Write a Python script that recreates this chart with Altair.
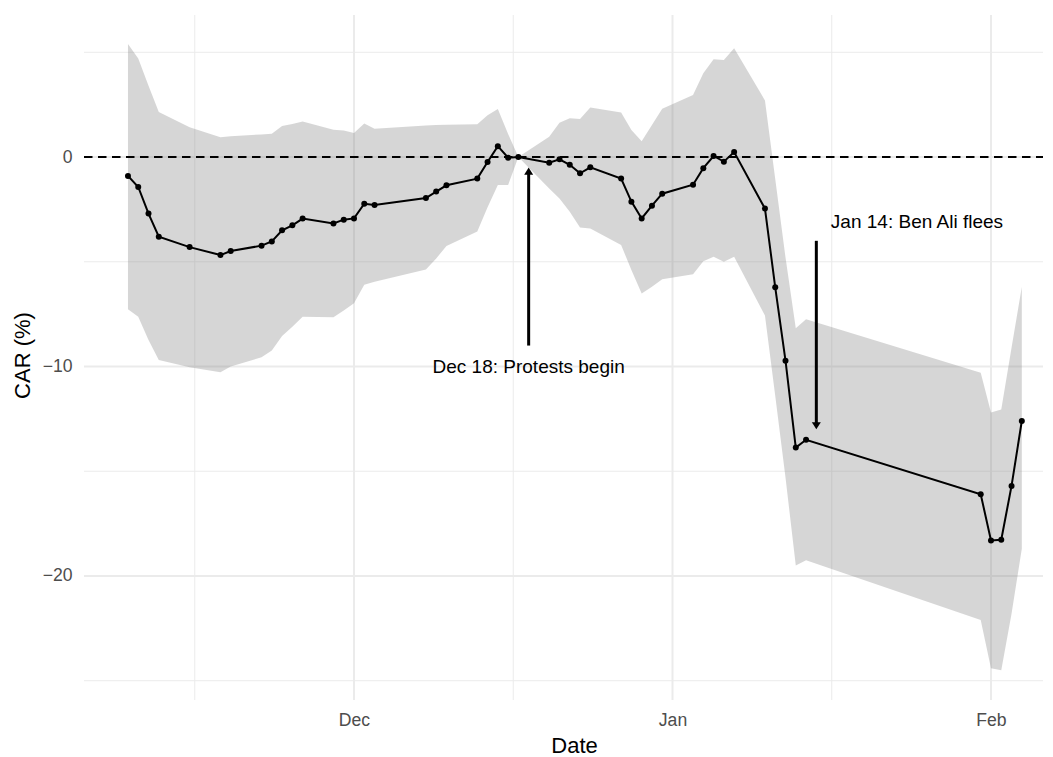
import altair as alt
import pandas as pd

# ---------------- data ----------------
dates = [
    "2010-11-09", "2010-11-10", "2010-11-11", "2010-11-12", "2010-11-15",
    "2010-11-18", "2010-11-19", "2010-11-22", "2010-11-23", "2010-11-24",
    "2010-11-25", "2010-11-26", "2010-11-29", "2010-11-30",
    "2010-12-01", "2010-12-02", "2010-12-03", "2010-12-08", "2010-12-09",
    "2010-12-10", "2010-12-13", "2010-12-14", "2010-12-15", "2010-12-16",
    "2010-12-17", "2010-12-20", "2010-12-21", "2010-12-22", "2010-12-23",
    "2010-12-24", "2010-12-27", "2010-12-28", "2010-12-29", "2010-12-30",
    "2010-12-31",
    "2011-01-03", "2011-01-04", "2011-01-05", "2011-01-06", "2011-01-07",
    "2011-01-10", "2011-01-11", "2011-01-12", "2011-01-13", "2011-01-14",
    "2011-01-31",
    "2011-02-01", "2011-02-02", "2011-02-03", "2011-02-04",
]
car = [
    -0.90, -1.43, -2.70, -3.80, -4.30,
    -4.68, -4.49, -4.23, -4.03, -3.50,
    -3.26, -2.94, -3.17, -2.99,
    -2.93, -2.23, -2.29, -1.96, -1.65,
    -1.35, -1.03, -0.24, 0.52, -0.03,
    0.00, -0.27, -0.11, -0.37, -0.78,
    -0.49, -1.03, -2.13, -2.93, -2.32,
    -1.75,
    -1.32, -0.53, 0.05, -0.22, 0.24,
    -2.46, -6.22, -9.72, -13.87, -13.50,
    -16.10,
    -18.30, -18.27, -15.70, -12.60,
]
upper = [
    5.40, 4.70, 3.40, 2.15, 1.42,
    0.95, 0.99, 1.08, 1.11, 1.48,
    1.58, 1.70, 1.30, 1.27,
    1.15, 1.60, 1.35, 1.51, 1.53,
    1.54, 1.57, 2.00, 2.29, 1.10,
    0.00, 0.97, 1.64, 1.85, 1.81,
    2.37, 2.12, 1.29, 0.75, 1.53,
    2.30,
    2.96, 4.00, 4.67, 4.63, 5.19,
    2.70, -1.05, -4.80, -8.17, -7.74,
    -10.30,
    -12.20, -12.05, -9.10, -6.20,
]
lower = [
    -7.27, -7.62, -8.74, -9.69, -10.04,
    -10.28, -10.00, -9.56, -9.24, -8.54,
    -8.10, -7.62, -7.65, -7.33,
    -6.98, -6.10, -5.95, -5.37, -4.84,
    -4.25, -3.56, -2.40, -1.34, -1.34,
    0.00, -1.50, -1.98, -2.61, -3.36,
    -3.41, -4.20, -5.39, -6.52, -6.19,
    -5.84,
    -5.60, -4.97, -4.76, -5.00, -4.76,
    -7.57, -11.40, -15.30, -19.50, -19.25,
    -22.10,
    -24.40, -24.50, -21.80, -18.70,
]

x_major = ["2010-12-01", "2011-01-01", "2011-02-01"]
x_minor = ["2010-11-15T12:00", "2010-12-16T12:00", "2011-01-16T12:00"]
y_major = [0, -10, -20]
y_minor = [5, -5, -15, -25]
zero_line = [0]
x_domain = ["2010-11-04T17:17", "2011-02-06T01:30"]
y_domain = [-25.92, 6.78]

ann_text = ["Dec 18: Protests begin", "Jan 14: Ben Ali flees"]
ann_text_x = ["2010-12-18", "2011-01-24T19:00"]
ann_text_y = [-10.0, -3.1]
arrow_x = ["2010-12-18", "2011-01-15"]
arrow_from = [-9.0, -4.0]
arrow_to = [-0.5, -13.0]


def ms(s):
    return int(pd.Timestamp(s, tz="UTC").value // 10**6)


W, H = 959, 685
FONT = "Liberation Sans"

main = pd.DataFrame({"date": [ms(d) for d in dates], "car": car,
                     "hi": upper, "lo": lower})

xscale = alt.Scale(type="utc", domain=[ms(d) for d in x_domain], nice=False)
yscale = alt.Scale(domain=y_domain, nice=False, zero=False)

xaxis = alt.Axis(values=[ms(d) for d in x_major], format="%b", grid=False,
                 domain=False, ticks=False, tickSize=0, labelPadding=11,
                 labelFont=FONT, labelFontSize=17.6, labelColor="#4D4D4D",
                 title="Date", titleFont=FONT, titleFontSize=22,
                 titleFontWeight="normal", titleColor="#000000",
                 titleX=490, titleY=45, titleBaseline="middle",
                 titleAlign="center")
yaxis = alt.Axis(values=y_major, grid=False, domain=False, ticks=False,
                 tickSize=0, labelPadding=12, labelFont=FONT,
                 labelFontSize=17.6, labelColor="#4D4D4D",
                 title="CAR (%)", titleFont=FONT, titleFontSize=22,
                 titleFontWeight="normal", titleColor="#000000",
                 titleX=-62, titleY=340, titleAngle=270,
                 titleBaseline="middle", titleAlign="center")


def X(field):
    return alt.X(f"{field}:T", scale=xscale, axis=xaxis, title="Date")


def Y(field):
    return alt.Y(f"{field}:Q", scale=yscale, axis=yaxis, title="CAR (%)")


hgrid_major = alt.Chart(pd.DataFrame({"car": y_major})).mark_rule(
    color="#EBEBEB", strokeWidth=2).encode(
    y=Y("car"), x=alt.value(0), x2=alt.value(W))
hgrid_minor = alt.Chart(pd.DataFrame({"car": y_minor})).mark_rule(
    color="#EBEBEB", strokeWidth=1).encode(
    y=Y("car"), x=alt.value(0), x2=alt.value(W))
vgrid_major = alt.Chart(pd.DataFrame({"date": [ms(d) for d in x_major]})).mark_rule(
    color="#EBEBEB", strokeWidth=2).encode(
    x=X("date"), y=alt.value(0), y2=alt.value(H))
vgrid_minor = alt.Chart(pd.DataFrame({"date": [ms(d) for d in x_minor]})).mark_rule(
    color="#EBEBEB", strokeWidth=1).encode(
    x=X("date"), y=alt.value(0), y2=alt.value(H))

ribbon = alt.Chart(main).mark_area(color="#7F7F7F", opacity=0.32).encode(
    x=X("date"), y=Y("lo"), y2="hi:Q")

zero = alt.Chart(pd.DataFrame({"car": zero_line})).mark_rule(
    color="#000000", strokeWidth=2, strokeDash=[8.5, 5.5]).encode(
    y=Y("car"), x=alt.value(0), x2=alt.value(W))

line = alt.Chart(main).mark_line(color="#000000", strokeWidth=2).encode(
    x=X("date"), y=Y("car"))
points = alt.Chart(main).mark_circle(color="#000000", size=36, opacity=1).encode(
    x=X("date"), y=Y("car"))

# arrow shafts stop just inside the heads
shaft_end = [t - 0.25 if t > f else t + 0.25 for f, t in zip(arrow_from, arrow_to)]
arrows = pd.DataFrame({"date": [ms(d) for d in arrow_x], "y1": arrow_from,
                       "y2": shaft_end, "tip": arrow_to})
shafts = alt.Chart(arrows).mark_rule(color="#000000", strokeWidth=3).encode(
    x=X("date"), y=Y("y1"), y2="y2:Q")
head_up = alt.Chart(arrows.iloc[[0]]).mark_point(
    shape="M0,0L1,1.6L-1,1.6Z", filled=True, size=81, color="#000000",
    opacity=1).encode(x=X("date"), y=Y("tip"))
head_down = alt.Chart(arrows.iloc[[1]]).mark_point(
    shape="M0,0L1,-1.6L-1,-1.6Z", filled=True, size=81, color="#000000",
    opacity=1).encode(x=X("date"), y=Y("tip"))

labels = alt.Chart(pd.DataFrame({"date": [ms(d) for d in ann_text_x],
                                 "car": ann_text_y, "txt": ann_text})).mark_text(
    font=FONT, fontSize=19, color="#000000", align="center",
    baseline="middle").encode(x=X("date"), y=Y("car"), text="txt:N")

chart = alt.layer(
    hgrid_minor, hgrid_major, vgrid_minor, vgrid_major,
    ribbon, zero, line, points, shafts, head_up, head_down, labels,
).properties(
    width=W, height=H,
    padding={"left": 84, "top": 15, "right": 10, "bottom": 57},
    autosize=alt.AutoSizeParams(type="none"),
    background="#FFFFFF",
).configure_view(stroke=None)

chart.save("out.html", embed_options={"renderer": "svg", "actions": False})
